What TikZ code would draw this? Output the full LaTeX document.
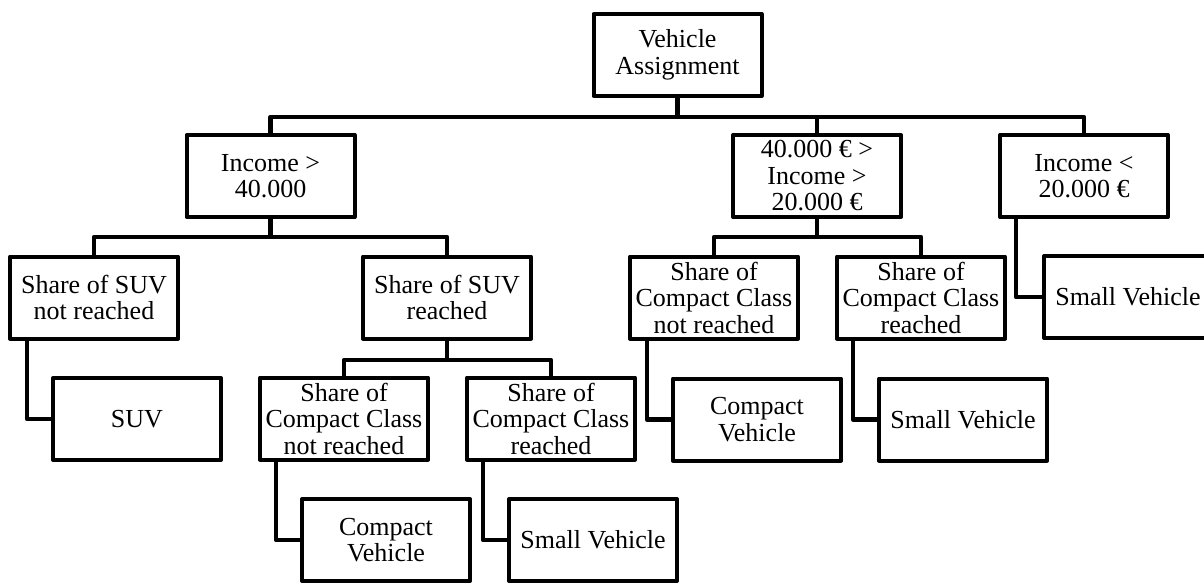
\documentclass[tikz,border=0pt]{standalone}
\usepackage{fontspec}
\setmainfont{Liberation Serif}
\begin{document}
\begin{tikzpicture}[x=1pt,y=-1pt,
  box/.style={draw,line width=4pt,line join=round,minimum width=168pt,minimum height=82pt,
    inner sep=0pt,align=center,font=\fontsize{26}{26.5}\selectfont},
  conn/.style={line width=4.5pt,line join=round}]
\clip (0,0) rectangle (1204,582);
\fill[white] (0,0) rectangle (1204,582);
% nodes
\node[box] (root) at (677.5,55) {Vehicle\\Assignment};
\node[box] (inc1) at (270.5,176) {Income >\\40.000};
\node[box] (inc2) at (817,176) {40.000 € >\\Income >\\20.000 €};
\node[box] (inc3) at (1084,176) {Income <\\20.000 €};
\node[box] (suvn) at (94,297.5) {Share of SUV\\not reached};
\node[box] (suvr) at (447,297.5) {Share of SUV\\reached};
\node[box] (suv) at (137,419) {SUV};
\node[box] (ccn1) at (344,418.5) {Share of\\Compact Class\\not reached};
\node[box] (ccr1) at (551,418.5) {Share of\\Compact Class\\reached};
\node[box] (cv1) at (386,540) {Compact\\Vehicle};
\node[box] (sv1) at (593,540) {Small Vehicle};
\node[box] (ccn2) at (714,297.5) {Share of\\Compact Class\\not reached};
\node[box] (ccr2) at (921,297.5) {Share of\\Compact Class\\reached};
\node[box] (cv2) at (757,419.5) {Compact\\Vehicle};
\node[box] (sv2) at (963,419.5) {Small Vehicle};
\node[box] (sv3) at (1128,297) {Small Vehicle};
% bus coordinates
\coordinate (b1) at (0,117);
\coordinate (b2) at (0,237);
\coordinate (b3) at (0,360);
% top level
\draw[conn] (root.south) -- (root.south |- b1);
\draw[conn] (inc1.north) -- (inc1.north |- b1) -- (inc3.north |- b1) -- (inc3.north);
\draw[conn] (inc2.north) -- (inc2.north |- b1);
% under income > 40.000
\draw[conn] (inc1.south) -- (inc1.south |- b2);
\draw[conn] (suvn.north) -- (suvn.north |- b2) -- (suvr.north |- b2) -- (suvr.north);
% under 40.000 > income > 20.000
\draw[conn] (inc2.south) -- (inc2.south |- b2);
\draw[conn] (ccn2.north) -- (ccn2.north |- b2) -- (ccr2.north |- b2) -- (ccr2.north);
% under share of SUV reached
\draw[conn] (suvr.south) -- (suvr.south |- b3);
\draw[conn] (ccn1.north) -- (ccn1.north |- b3) -- (ccr1.north |- b3) -- (ccr1.north);
% elbows
\draw[conn] ([xshift=19pt]suvn.south west) |- (suv.west);
\draw[conn] ([xshift=18pt]inc3.south west) |- (sv3.west);
\draw[conn] ([xshift=18pt]ccn1.south west) |- (cv1.west);
\draw[conn] ([xshift=18pt]ccr1.south west) |- (sv1.west);
\draw[conn] ([xshift=19pt]ccn2.south west) |- (cv2.west);
\draw[conn] ([xshift=18pt]ccr2.south west) |- (sv2.west);
\end{tikzpicture}
\end{document}
